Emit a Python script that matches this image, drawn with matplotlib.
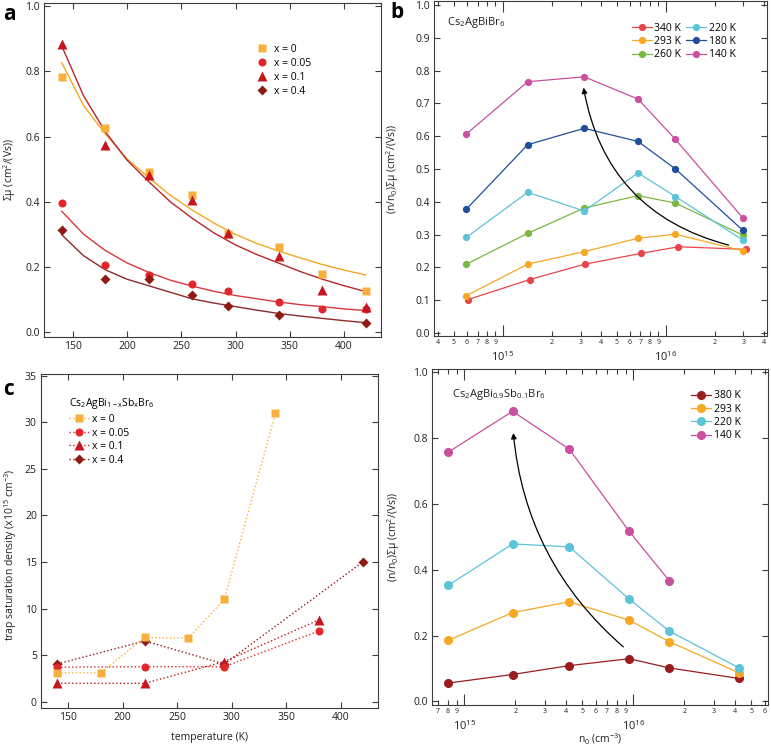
import numpy as np
import matplotlib
matplotlib.use("Agg")
import matplotlib.pyplot as plt
from matplotlib.ticker import FixedLocator, FixedFormatter, FuncFormatter, LogLocator, MultipleLocator

plt.rcParams['font.family'] = ['Open Sans', 'DejaVu Sans']
plt.rcParams['mathtext.fontset'] = 'custom'
plt.rcParams['mathtext.rm'] = 'Open Sans'
plt.rcParams['mathtext.it'] = 'Open Sans:italic'
plt.rcParams['mathtext.bf'] = 'Open Sans:bold'
plt.rcParams['mathtext.default'] = 'regular'

# ---- panel a: sum mobility vs temperature ----
temp_a = [140, 180, 220, 260, 293, 340, 380, 420]
mu_x0 = [0.782, 0.627, 0.49, 0.42, 0.30, 0.263, 0.179, 0.127]
mu_x005 = [0.397, 0.207, 0.177, 0.148, 0.127, 0.093, 0.072, 0.072]
mu_x01 = [0.883, 0.575, 0.483, 0.405, 0.304, 0.233, 0.13, 0.077]
temp_a_x04 = [140, 180, 220, 260, 293, 340, 420]
mu_x04 = [0.314, 0.163, 0.163, 0.115, 0.082, 0.053, 0.029]

# fit curves
temp_fit = [140, 160, 180, 200, 220, 240, 260, 280, 300, 320, 340, 360, 380, 400, 420]
fit_x0 = [0.826, 0.695, 0.608, 0.532, 0.474, 0.42, 0.375, 0.335, 0.300, 0.272, 0.249, 0.228, 0.208, 0.191, 0.176]
fit_x005 = [0.371, 0.301, 0.251, 0.213, 0.184, 0.160, 0.142, 0.126, 0.113, 0.103, 0.093, 0.085, 0.079, 0.072, 0.067]
fit_x01 = [0.877, 0.725, 0.615, 0.528, 0.462, 0.40, 0.35, 0.305, 0.268, 0.238, 0.212, 0.186, 0.163, 0.143, 0.125]
fit_x04 = [0.299, 0.235, 0.192, 0.163, 0.143, 0.123, 0.103, 0.090, 0.079, 0.068, 0.058, 0.050, 0.043, 0.036, 0.030]

# ---- panel b: Cs2AgBiBr6 ----
n0_b = [5.97e14, 1.42e15, 3.16e15, 6.77e15, 1.15e16, 2.97e16]
n0_b_340 = [6.1e14, 1.46e15, 3.19e15, 7.1e15, 1.2e16, 3.11e16]
b_labels = ['340 K', '293 K', '260 K', '220 K', '180 K', '140 K']
b_340 = [0.102, 0.163, 0.210, 0.243, 0.263, 0.255]
b_293 = [0.114, 0.210, 0.248, 0.289, 0.301, 0.251]
b_260 = [0.210, 0.304, 0.381, 0.419, 0.396, 0.299]
b_220 = [0.292, 0.429, 0.372, 0.488, 0.416, 0.284]
b_180 = [0.378, 0.574, 0.624, 0.584, 0.500, 0.314]
b_140 = [0.607, 0.766, 0.781, 0.713, 0.590, 0.352]

# ---- panel c: trap saturation density ----
c_temp_x0 = [140, 180, 220, 260, 293, 340]
c_x0 = [3.1, 3.1, 6.9, 6.8, 11.0, 31.0]
c_temp_x005 = [140, 220, 293, 380]
c_x005 = [3.7, 3.76, 3.76, 7.6]
c_temp_x01 = [140, 220, 293, 380]
c_x01 = [1.97, 1.97, 4.3, 8.8]
c_temp_x04 = [140, 220, 293, 420]
c_x04 = [4.05, 6.52, 4.05, 15.0]

# ---- panel d: Cs2AgBi0.9Sb0.1Br6 ----
n0_d = [8.04e14, 1.93e15, 4.18e15, 9.46e15, 1.633e16, 4.22e16]
d_labels = ['380 K', '293 K', '220 K', '140 K']
d_380 = [0.056, 0.082, 0.109, 0.130, 0.102, 0.070]
d_293 = [0.186, 0.270, 0.303, 0.247, 0.182, 0.087]
d_220 = [0.353, 0.479, 0.470, 0.311, 0.214, 0.102]
d_140 = [0.758, 0.882, 0.767, 0.517, 0.367]

col_x0 = '#f7b03e'
col_x0_line = '#f4a81f'
col_x005 = '#e3262b'
col_x01 = '#c5161d'
col_x04 = '#8f1a14'

col_b = ['#e9464c', '#f7a823', '#7ab843', '#5cc3d8', '#1f4f9c', '#c8509e']
col_d = ['#9a1c1f', '#f7a823', '#5cc3d8', '#c8509e']

W, H = 771, 746
fig = plt.figure(figsize=(W / 100, H / 100), dpi=100)


def frac(l, t, r, b):
    return [l / W, 1 - b / H, (r - l) / W, (b - t) / H]


def style(ax):
    for s in ax.spines.values():
        s.set_color('#3c3c3c')
        s.set_linewidth(0.8)
    ax.tick_params(which='both', direction='in', top=True, right=True,
                   color='#3c3c3c', labelcolor='#231f20', width=0.8)
    ax.tick_params(which='major', length=4.5, labelsize=7.5, pad=3)


def log_axis(ax):
    ax.set_xscale('log')
    ax.xaxis.set_major_locator(FixedLocator([1e15, 1e16]))
    ax.xaxis.set_major_formatter(FixedFormatter(['$10^{15}$', '$10^{16}$']))
    ax.xaxis.set_minor_locator(LogLocator(base=10, subs=np.arange(2, 10)))
    ax.xaxis.set_minor_formatter(FuncFormatter(
        lambda v, p: '%d' % round(v / 10 ** np.floor(np.log10(v) + 1e-9))))
    ax.tick_params(axis='x', which='major', length=8, labelsize=8, pad=10)
    ax.tick_params(axis='x', which='minor', length=3.5, labelsize=5, pad=2)


ylab = '(n/n$_0$)Σμ (cm$^2$/(Vs))'

# panel a
ax_a = fig.add_axes(frac(44, 3, 381, 337))
style(ax_a)
ax_a.plot(temp_fit, fit_x0, color=col_x0_line, lw=1)
ax_a.plot(temp_fit, fit_x01, color='#b5262b', lw=1)
ax_a.plot(temp_fit, fit_x005, color='#d8383c', lw=1)
ax_a.plot(temp_fit, fit_x04, color='#8e2a2a', lw=1)
ax_a.plot(temp_a, mu_x0, 's', color=col_x0, ms=5.5, mec='none', label='x = 0')
ax_a.plot(temp_a, mu_x005, 'o', color=col_x005, ms=5.8, mec='none', label='x = 0.05')
ax_a.plot(temp_a, mu_x01, '^', color=col_x01, ms=6.5, mec='none', label='x = 0.1')
ax_a.plot(temp_a_x04, mu_x04, 'D', color=col_x04, ms=5, mec='none', label='x = 0.4')
ax_a.set_xlim(123.6, 434)
ax_a.set_ylim(-0.014, 1.009)
ax_a.xaxis.set_major_locator(MultipleLocator(50))
ax_a.yaxis.set_major_locator(MultipleLocator(0.2))
ax_a.yaxis.set_major_formatter(FuncFormatter(lambda v, p: '%.1f' % v))
ax_a.set_ylabel('Σμ (cm$^2$/(Vs))', fontsize=7.5, color='#231f20')
ax_a.yaxis.set_label_coords(-0.078, 0.5)
ax_a.legend(loc='upper left', bbox_to_anchor=(0.61, 0.9), frameon=False,
            fontsize=7.5, handlelength=1.0, handletextpad=0.6, labelspacing=0.3,
            borderpad=0.2)

# panel b
ax_b = fig.add_axes(frac(434, 1, 767, 336))
style(ax_b)
log_axis(ax_b)
b_series = [b_340, b_293, b_260, b_220, b_180, b_140]
for i, (vals, lab) in enumerate(zip(b_series, b_labels)):
    xs = n0_b_340 if i == 0 else n0_b
    ax_b.plot(xs, vals, '-o', color=col_b[i], lw=0.9, ms=4.2, label=lab)
ax_b.set_xlim(3.77e14, 4.2e16)
ax_b.set_ylim(-0.009, 1.012)
ax_b.yaxis.set_major_locator(MultipleLocator(0.1))
ax_b.yaxis.set_major_formatter(FuncFormatter(lambda v, p: '%.1f' % v))
ax_b.set_ylabel(ylab, fontsize=7.5, color='#231f20')
ax_b.yaxis.set_label_coords(-0.1, 0.5)
ax_b.text(0.04, 0.928, 'Cs$_2$AgBiBr$_6$', transform=ax_b.transAxes, fontsize=8,
          color='#231f20', va='baseline')
ax_b.legend(loc='upper left', bbox_to_anchor=(0.572, 0.957), ncol=2, frameon=False,
            fontsize=7.5, handlelength=1.9, handletextpad=0.25, labelspacing=0.22,
            columnspacing=0.5, borderpad=0.2)
ax_b.annotate('', xy=(3.13e15, 0.748), xytext=(2.44e16, 0.268),
              arrowprops=dict(arrowstyle='-|>', connectionstyle='arc3,rad=-0.32',
                              color='black', lw=0.9, mutation_scale=8,
                              shrinkA=0, shrinkB=0))

# panel c
ax_c = fig.add_axes(frac(41, 374, 378, 708))
style(ax_c)
ax_c.plot(c_temp_x04, c_x04, ':', marker='D', color=col_x04, ms=5, mec='none', lw=1, label='x = 0.4')
ax_c.plot(c_temp_x01, c_x01, ':', marker='^', color=col_x01, ms=6.5, mec='none', lw=1, label='x = 0.1')
ax_c.plot(c_temp_x005, c_x005, ':', marker='o', color=col_x005, ms=5.8, mec='none', lw=1, label='x = 0.05')
ax_c.plot(c_temp_x0, c_x0, ':', marker='s', color=col_x0, ms=5.5, mec='none', lw=1, label='x = 0')
ax_c.set_xlim(125, 434)
ax_c.set_ylim(-0.68, 35.2)
ax_c.xaxis.set_major_locator(MultipleLocator(50))
ax_c.yaxis.set_major_locator(MultipleLocator(5))
ax_c.set_xlabel('temperature (K)', fontsize=7.5, color='#231f20')
ax_c.xaxis.set_label_coords(0.5, -0.073)
ax_c.set_ylabel('trap saturation density (x10$^{15}$ cm$^{-3}$)', fontsize=7.5, color='#231f20')
ax_c.yaxis.set_label_coords(-0.066, 0.46)
h, l = ax_c.get_legend_handles_labels()
leg = ax_c.legend(h[::-1], l[::-1], loc='upper left', bbox_to_anchor=(0.06, 0.955),
                  frameon=False, fontsize=7.5, handlelength=2.0, handletextpad=0.3,
                  labelspacing=0.25, borderpad=0.2,
                  title='Cs$_2$AgBi$_{1-x}$Sb$_x$Br$_6$', title_fontsize=7.5,
                  alignment='left')

# panel d
ax_d = fig.add_axes(frac(432, 369, 768, 705))
style(ax_d)
log_axis(ax_d)
d_series = [d_380, d_293, d_220, d_140]
for i, (vals, lab) in enumerate(zip(d_series, d_labels)):
    ax_d.plot(n0_d[:len(vals)], vals, '-o', color=col_d[i], lw=0.9, ms=5.5, label=lab)
ax_d.set_xlim(6.44e14, 6.27e16)
ax_d.set_ylim(-0.0107, 1.0106)
ax_d.yaxis.set_major_locator(MultipleLocator(0.2))
ax_d.yaxis.set_major_formatter(FuncFormatter(lambda v, p: '%.1f' % v))
ax_d.set_ylabel(ylab, fontsize=7.5, color='#231f20')
ax_d.yaxis.set_label_coords(-0.089, 0.5)
ax_d.set_xlabel('n$_0$ (cm$^{-3}$)', fontsize=7.5, color='#231f20')
ax_d.xaxis.set_label_coords(0.5, -0.08)
ax_d.text(0.06, 0.918, 'Cs$_2$AgBi$_{0.9}$Sb$_{0.1}$Br$_6$', transform=ax_d.transAxes,
          fontsize=8, color='#231f20', va='baseline')
ax_d.legend(loc='upper left', bbox_to_anchor=(0.75, 0.958), frameon=False,
            fontsize=7.5, handlelength=1.9, handletextpad=0.3, labelspacing=0.22,
            borderpad=0.2)
ax_d.annotate('', xy=(1.95e15, 0.816), xytext=(8.73e15, 0.166),
              arrowprops=dict(arrowstyle='-|>', connectionstyle='arc3,rad=-0.2',
                              color='black', lw=0.9, mutation_scale=8,
                              shrinkA=0, shrinkB=0))

# panel letters
for letter, x, y in [('a', 3, 20), ('b', 390, 18), ('c', 3, 395)]:
    fig.text(x / W, 1 - y / H, letter, fontsize=15, fontweight='bold', va='baseline')

fig.savefig('out.png', dpi=100)
